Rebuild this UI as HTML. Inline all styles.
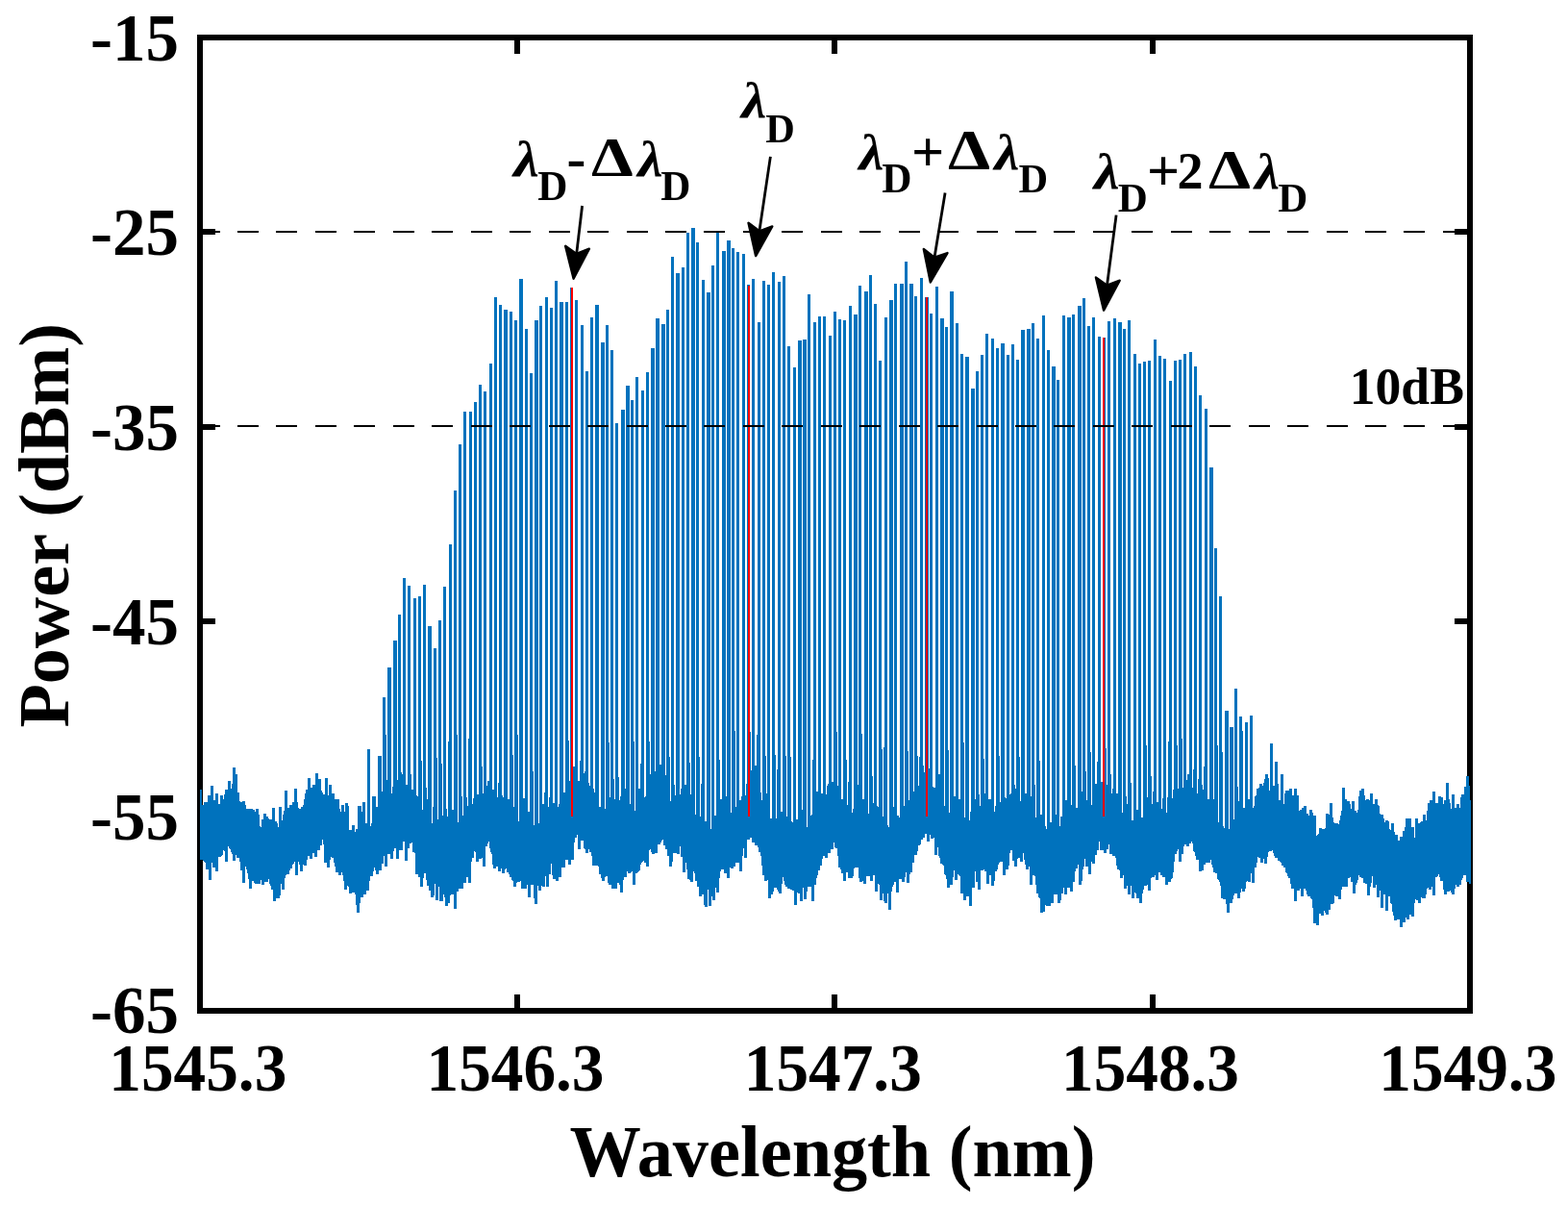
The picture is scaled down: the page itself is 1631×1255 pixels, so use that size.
<!DOCTYPE html>
<html><head><meta charset="utf-8"><title>Spectrum</title>
<style>html,body{margin:0;padding:0;background:#fff;overflow:hidden}svg{display:block}</style>
</head><body>
<svg width="1631" height="1255" viewBox="0 0 1631 1255">
<rect width="1631" height="1255" fill="#fff"/>
<path d="M205 36h1327v6h-1327zM205 1048h1327v6h-1327zM205 36h6v1018h-6zM1526 36h6v1018h-6zM211 238h13v6h-13zM1513 238h13v6h-13zM211 441h13v6h-13zM1513 441h13v6h-13zM211 643h13v6h-13zM1513 643h13v6h-13zM211 846h13v6h-13zM1513 846h13v6h-13zM535 1034h6v14h-6zM535 42h6v14h-6zM865 1034h6v14h-6zM865 42h6v14h-6zM1196 1034h6v14h-6zM1196 42h6v14h-6z" fill="#000" shape-rendering="crispEdges"/>
<polygon points="208,821 209,821 209,821 210,821 210,837 211,837 211,837 212,837 212,834 213,834 213,834 214,834 214,834 215,834 215,834 216,834 216,827 217,827 217,827 218,827 218,827 219,827 219,817 220,817 220,817 221,817 221,817 222,817 222,832 223,832 223,832 224,832 224,825 225,825 225,825 226,825 226,825 227,825 227,836 228,836 228,836 229,836 229,827 230,827 230,827 231,827 231,827 232,827 232,831 233,831 233,826 234,826 234,821 235,821 235,821 236,821 236,821 237,821 237,812 238,812 238,812 239,812 239,812 240,812 240,820 241,820 241,815 242,815 242,798 243,798 243,798 244,798 244,798 245,798 245,805 246,805 246,805 247,805 247,824 248,824 248,824 249,824 249,833 250,833 250,834 251,834 251,834 252,834 252,833 253,833 253,833 254,833 254,833 255,833 255,837 256,837 256,841 257,841 257,841 258,841 258,841 259,841 259,841 260,841 260,841 261,841 261,841 262,841 262,841 263,841 263,842 264,842 264,842 265,842 265,844 266,844 266,841 267,841 267,841 268,841 268,841 269,841 269,847 270,847 270,859 271,859 271,860 272,860 272,852 273,852 273,852 274,852 274,846 275,846 275,846 276,846 276,846 277,846 277,849 278,849 278,849 279,849 279,851 280,851 280,852 281,852 281,852 282,852 282,852 283,852 283,840 284,840 284,840 285,840 285,840 286,840 286,854 287,854 287,854 288,854 288,856 289,856 289,860 290,860 290,839 291,839 291,839 292,839 292,839 293,839 293,853 294,853 294,847 295,847 295,843 296,843 296,822 297,822 297,822 298,822 298,822 299,822 299,840 300,840 300,840 301,840 301,837 302,837 302,837 303,837 303,837 304,837 304,834 305,834 305,834 306,834 306,820 307,820 307,820 308,820 308,820 309,820 309,834 310,834 310,840 311,840 311,841 312,841 312,841 313,841 313,839 314,839 314,839 315,839 315,837 316,837 316,831 317,831 317,825 318,825 318,821 319,821 319,821 320,821 320,809 321,809 321,809 322,809 322,809 323,809 323,819 324,819 324,819 325,819 325,816 326,816 326,816 327,816 327,816 328,816 328,804 329,804 329,804 330,804 330,804 331,804 331,810 332,810 332,810 333,810 333,810 334,810 334,822 335,822 335,824 336,824 336,826 337,826 337,826 338,826 338,809 339,809 339,809 340,809 340,809 341,809 341,827 342,827 342,816 343,816 343,816 344,816 344,816 345,816 345,825 346,825 346,825 347,825 347,825 348,825 348,831 349,831 349,831 350,831 350,831 351,831 351,831 352,831 352,831 353,831 353,841 354,841 354,844 355,844 355,837 356,837 356,837 357,837 357,837 358,837 358,844 359,844 359,835 360,835 360,835 361,835 361,835 362,835 362,838 363,838 363,863 364,863 364,863 365,863 365,863 366,863 366,858 367,858 367,858 368,858 368,858 369,858 369,865 370,865 370,862 371,862 371,862 372,862 372,862 373,862 373,865 374,865 374,865 375,865 375,844 376,844 376,844 377,844 377,844 378,844 378,857 379,857 379,857 380,857 380,856 381,856 381,856 382,856 382,856 383,856 383,859 384,859 384,863 385,863 385,859 386,859 386,856 387,856 387,846 388,846 388,832 389,832 389,832 390,832 390,832 391,832 391,839 392,839 392,839 393,839 393,836 394,836 394,831 395,831 395,828 396,828 396,823 397,823 397,823 398,823 398,823 399,823 399,802 400,802 400,802 401,802 401,802 402,802 402,811 403,811 403,811 404,811 404,811 405,811 405,822 406,822 406,822 407,822 407,825 408,825 408,818 409,818 409,818 410,818 410,818 411,818 411,811 412,811 412,811 413,811 413,811 414,811 414,809 415,809 415,803 416,803 416,803 417,803 417,803 418,803 418,805 419,805 419,809 420,809 420,809 421,809 421,809 422,809 422,816 423,816 423,816 424,816 424,815 425,815 425,805 426,805 426,805 427,805 427,805 428,805 428,821 429,821 429,821 430,821 430,821 431,821 431,822 432,822 432,824 433,824 433,827 434,827 434,828 435,828 435,821 436,821 436,821 437,821 437,821 438,821 438,842 439,842 439,842 440,842 440,846 441,846 441,848 442,848 442,844 443,844 443,844 444,844 444,831 445,831 445,831 446,831 446,831 447,831 447,848 448,848 448,853 449,853 449,856 450,856 450,839 451,839 451,839 452,839 452,839 453,839 453,848 454,848 454,852 455,852 455,852 456,852 456,841 457,841 457,841 458,841 458,841 459,841 459,848 460,848 460,848 461,848 461,848 462,848 462,841 463,841 463,841 464,841 464,841 465,841 465,849 466,849 466,859 467,859 467,859 468,859 468,859 469,859 469,842 470,842 470,842 471,842 471,842 472,842 472,859 473,859 473,864 474,864 474,864 475,864 475,855 476,855 476,855 477,855 477,855 478,855 478,857 479,857 479,848 480,848 480,848 481,848 481,848 482,848 482,848 483,848 483,836 484,836 484,836 485,836 485,836 486,836 486,838 487,838 487,840 488,840 488,840 489,840 489,841 490,841 490,837 491,837 491,836 492,836 492,830 493,830 493,829 494,829 494,829 495,829 495,829 496,829 496,826 497,826 497,826 498,826 498,826 499,826 499,828 500,828 500,825 501,825 501,825 502,825 502,825 503,825 503,808 504,808 504,808 505,808 505,808 506,808 506,817 507,817 507,812 508,812 508,812 509,812 509,812 510,812 510,823 511,823 511,822 512,822 512,821 513,821 513,821 514,821 514,821 515,821 515,822 516,822 516,827 517,827 517,829 518,829 518,814 519,814 519,814 520,814 520,814 521,814 521,835 522,835 522,836 523,836 523,829 524,829 524,829 525,829 525,829 526,829 526,840 527,840 527,831 528,831 528,831 529,831 529,831 530,831 530,843 531,843 531,843 532,843 532,842 533,842 533,842 534,842 534,839 535,839 535,839 536,839 536,839 537,839 537,847 538,847 538,850 539,850 539,854 540,854 540,854 541,854 541,838 542,838 542,838 543,838 543,838 544,838 544,830 545,830 545,830 546,830 546,830 547,830 547,845 548,845 548,844 549,844 549,844 550,844 550,844 551,844 551,853 552,853 552,842 553,842 553,842 554,842 554,842 555,842 555,858 556,858 556,858 557,858 557,864 558,864 558,862 559,862 559,856 560,856 560,856 561,856 561,856 562,856 562,856 563,856 563,836 564,836 564,836 565,836 565,836 566,836 566,849 567,849 567,832 568,832 568,832 569,832 569,832 570,832 570,839 571,839 571,829 572,829 572,829 573,829 573,829 574,829 574,835 575,835 575,835 576,835 576,835 577,835 577,846 578,846 578,841 579,841 579,839 580,839 580,839 581,839 581,836 582,836 582,832 583,832 583,823 584,823 584,823 585,823 585,823 586,823 586,824 587,824 587,824 588,824 588,831 589,831 589,834 590,834 590,834 591,834 591,812 592,812 592,812 593,812 593,812 594,812 594,806 595,806 595,797 596,797 596,797 597,797 597,797 598,797 598,809 599,809 599,809 600,809 600,809 601,809 601,812 602,812 602,812 603,812 603,812 604,812 604,820 605,820 605,810 606,810 606,810 607,810 607,804 608,804 608,802 609,802 609,802 610,802 610,802 611,802 611,814 612,814 612,814 613,814 613,817 614,817 614,817 615,817 615,817 616,817 616,820 617,820 617,820 618,820 618,824 619,824 619,818 620,818 620,818 621,818 621,818 622,818 622,839 623,839 623,839 624,839 624,839 625,839 625,844 626,844 626,836 627,836 627,836 628,836 628,836 629,836 629,841 630,841 630,843 631,843 631,845 632,845 632,847 633,847 633,840 634,840 634,829 635,829 635,829 636,829 636,829 637,829 637,831 638,831 638,831 639,831 639,831 640,831 640,845 641,845 641,847 642,847 642,848 643,848 643,832 644,832 644,832 645,832 645,828 646,828 646,828 647,828 647,828 648,828 648,820 649,820 649,820 650,820 650,820 651,820 651,840 652,840 652,845 653,845 653,836 654,836 654,836 655,836 655,836 656,836 656,843 657,843 657,839 658,839 658,839 659,839 659,839 660,839 660,843 661,843 661,843 662,843 662,842 663,842 663,842 664,842 664,820 665,820 665,820 666,820 666,820 667,820 667,829 668,829 668,829 669,829 669,829 670,829 670,829 671,829 671,828 672,828 672,815 673,815 673,815 674,815 674,805 675,805 675,805 676,805 676,805 677,805 677,820 678,820 678,816 679,816 679,802 680,802 680,802 681,802 681,802 682,802 682,819 683,819 683,818 684,818 684,804 685,804 685,795 686,795 686,795 687,795 687,795 688,795 688,808 689,808 689,801 690,801 690,801 691,801 691,801 692,801 692,806 693,806 693,813 694,813 694,813 695,813 695,824 696,824 696,824 697,824 697,833 698,833 698,829 699,829 699,816 700,816 700,816 701,816 701,816 702,816 702,827 703,827 703,816 704,816 704,816 705,816 705,816 706,816 706,825 707,825 707,826 708,826 708,820 709,820 709,820 710,820 710,820 711,820 711,816 712,816 712,816 713,816 713,816 714,816 714,821 715,821 715,823 716,823 716,832 717,832 717,826 718,826 718,826 719,826 719,826 720,826 720,836 721,836 721,837 722,837 722,841 723,841 723,847 724,847 724,847 725,847 725,847 726,847 726,847 727,847 727,850 728,850 728,849 729,849 729,843 730,843 730,843 731,843 731,843 732,843 732,850 733,850 733,854 734,854 734,854 735,854 735,855 736,855 736,853 737,853 737,853 738,853 738,853 739,853 739,862 740,862 740,862 741,862 741,859 742,859 742,854 743,854 743,848 744,848 744,848 745,848 745,848 746,848 746,851 747,851 747,844 748,844 748,844 749,844 749,831 750,831 750,831 751,831 751,831 752,831 752,822 753,822 753,822 754,822 754,822 755,822 755,828 756,828 756,828 757,828 757,828 758,828 758,831 759,831 759,831 760,831 760,845 761,845 761,844 762,844 762,826 763,826 763,826 764,826 764,826 765,826 765,839 766,839 766,840 767,840 767,832 768,832 768,832 769,832 769,832 770,832 770,832 771,832 771,828 772,828 772,821 773,821 773,821 774,821 774,821 775,821 775,827 776,827 776,815 777,815 777,815 778,815 778,811 779,811 779,804 780,804 780,801 781,801 781,801 782,801 782,801 783,801 783,805 784,805 784,796 785,796 785,796 786,796 786,796 787,796 787,797 788,797 788,797 789,797 789,814 790,814 790,817 791,817 791,824 792,824 792,832 793,832 793,825 794,825 794,825 795,825 795,825 796,825 796,825 797,825 797,825 798,825 798,825 799,825 799,848 800,848 800,851 801,851 801,851 802,851 802,851 803,851 803,862 804,862 804,862 805,862 805,860 806,860 806,858 807,858 807,851 808,851 808,847 809,847 809,847 810,847 810,847 811,847 811,844 812,844 812,844 813,844 813,844 814,844 814,852 815,852 815,851 816,851 816,849 817,849 817,849 818,849 818,849 819,849 819,849 820,849 820,849 821,849 821,849 822,849 822,854 823,854 823,854 824,854 824,855 825,855 825,858 826,858 826,861 827,861 827,852 828,852 828,852 829,852 829,852 830,852 830,860 831,860 831,860 832,860 832,853 833,853 833,842 834,842 834,842 835,842 835,842 836,842 836,841 837,841 837,841 838,841 838,841 839,841 839,860 840,860 840,847 841,847 841,847 842,847 842,847 843,847 843,848 844,848 844,847 845,847 845,841 846,841 846,841 847,841 847,826 848,826 848,826 849,826 849,823 850,823 850,823 851,823 851,823 852,823 852,828 853,828 853,826 854,826 854,825 855,825 855,825 856,825 856,825 857,825 857,827 858,827 858,826 859,826 859,826 860,826 860,817 861,817 861,815 862,815 862,815 863,815 863,815 864,815 864,814 865,814 865,813 866,813 866,813 867,813 867,813 868,813 868,813 869,813 869,815 870,815 870,817 871,817 871,817 872,817 872,821 873,821 873,821 874,821 874,828 875,828 875,831 876,831 876,831 877,831 877,832 878,832 878,836 879,836 879,838 880,838 880,838 881,838 881,837 882,837 882,837 883,837 883,837 884,837 884,844 885,844 885,845 886,845 886,845 887,845 887,841 888,841 888,838 889,838 889,829 890,829 890,816 891,816 891,816 892,816 892,816 893,816 893,817 894,817 894,832 895,832 895,833 896,833 896,831 897,831 897,831 898,831 898,831 899,831 899,832 900,832 900,832 901,832 901,838 902,838 902,838 903,838 903,846 904,846 904,841 905,841 905,841 906,841 906,841 907,841 907,841 908,841 908,835 909,835 909,835 910,835 910,835 911,835 911,838 912,838 912,838 913,838 913,839 914,839 914,844 915,844 915,854 916,854 916,854 917,854 917,854 918,854 918,849 919,849 919,849 920,849 920,849 921,849 921,849 922,849 922,849 923,849 923,858 924,858 924,860 925,860 925,860 926,860 926,860 927,860 927,839 928,839 928,839 929,839 929,839 930,839 930,845 931,845 931,845 932,845 932,848 933,848 933,848 934,848 934,848 935,848 935,850 936,850 936,848 937,848 937,848 938,848 938,848 939,848 939,838 940,838 940,838 941,838 941,838 942,838 942,825 943,825 943,825 944,825 944,825 945,825 945,832 946,832 946,834 947,834 947,835 948,835 948,828 949,828 949,823 950,823 950,823 951,823 951,823 952,823 952,824 953,824 953,817 954,817 954,817 955,817 955,817 956,817 956,813 957,813 957,813 958,813 958,796 959,796 959,796 960,796 960,796 961,796 961,803 962,803 962,803 963,803 963,807 964,807 964,799 965,799 965,799 966,799 966,799 967,799 967,811 968,811 968,811 969,811 969,811 970,811 970,818 971,818 971,819 972,819 972,819 973,819 973,819 974,819 974,819 975,819 975,821 976,821 976,805 977,805 977,805 978,805 978,805 979,805 979,826 980,826 980,826 981,826 981,835 982,835 982,838 983,838 983,839 984,839 984,841 985,841 985,841 986,841 986,841 987,841 987,845 988,845 988,845 989,845 989,823 990,823 990,823 991,823 991,823 992,823 992,828 993,828 993,828 994,828 994,828 995,828 995,828 996,828 996,831 997,831 997,831 998,831 998,831 999,831 999,847 1000,847 1000,851 1001,851 1001,851 1002,851 1002,850 1003,850 1003,850 1004,850 1004,850 1005,850 1005,860 1006,860 1006,856 1007,856 1007,856 1008,856 1008,853 1009,853 1009,844 1010,844 1010,841 1011,841 1011,830 1012,830 1012,830 1013,830 1013,830 1014,830 1014,831 1015,831 1015,818 1016,818 1016,818 1017,818 1017,818 1018,818 1018,826 1019,826 1019,838 1020,838 1020,824 1021,824 1021,824 1022,824 1022,824 1023,824 1023,829 1024,829 1024,825 1025,825 1025,825 1026,825 1026,825 1027,825 1027,835 1028,835 1028,831 1029,831 1029,831 1030,831 1030,831 1031,831 1031,839 1032,839 1032,839 1033,839 1033,839 1034,839 1034,844 1035,844 1035,838 1036,838 1036,826 1037,826 1037,826 1038,826 1038,826 1039,826 1039,835 1040,835 1040,834 1041,834 1041,813 1042,813 1042,813 1043,813 1043,813 1044,813 1044,829 1045,829 1045,829 1046,829 1046,830 1047,830 1047,827 1048,827 1048,826 1049,826 1049,826 1050,826 1050,826 1051,826 1051,825 1052,825 1052,822 1053,822 1053,816 1054,816 1054,816 1055,816 1055,816 1056,816 1056,820 1057,820 1057,820 1058,820 1058,820 1059,820 1059,827 1060,827 1060,833 1061,833 1061,833 1062,833 1062,831 1063,831 1063,830 1064,830 1064,830 1065,830 1065,825 1066,825 1066,825 1067,825 1067,825 1068,825 1068,831 1069,831 1069,828 1070,828 1070,828 1071,828 1071,828 1072,828 1072,828 1073,828 1073,837 1074,837 1074,837 1075,837 1075,841 1076,841 1076,847 1077,847 1077,850 1078,850 1078,850 1079,850 1079,850 1080,850 1080,850 1081,850 1081,854 1082,854 1082,847 1083,847 1083,847 1084,847 1084,847 1085,847 1085,858 1086,858 1086,858 1087,858 1087,859 1088,859 1088,862 1089,862 1089,862 1090,862 1090,864 1091,864 1091,855 1092,855 1092,855 1093,855 1093,855 1094,855 1094,855 1095,855 1095,851 1096,851 1096,847 1097,847 1097,847 1098,847 1098,847 1099,847 1099,854 1100,854 1100,859 1101,859 1101,859 1102,859 1102,859 1103,859 1103,849 1104,849 1104,849 1105,849 1105,849 1106,849 1106,850 1107,850 1107,853 1108,853 1108,832 1109,832 1109,832 1110,832 1110,832 1111,832 1111,822 1112,822 1112,822 1113,822 1113,822 1114,822 1114,837 1115,837 1115,837 1116,837 1116,852 1117,852 1117,846 1118,846 1118,840 1119,840 1119,840 1120,840 1120,840 1121,840 1121,840 1122,840 1122,840 1123,840 1123,840 1124,840 1124,823 1125,823 1125,823 1126,823 1126,823 1127,823 1127,825 1128,825 1128,826 1129,826 1129,826 1130,826 1130,832 1131,832 1131,832 1132,832 1132,839 1133,839 1133,841 1134,841 1134,837 1135,837 1135,837 1136,837 1136,833 1137,833 1137,821 1138,821 1138,821 1139,821 1139,815 1140,815 1140,815 1141,815 1141,815 1142,815 1142,820 1143,820 1143,819 1144,819 1144,813 1145,813 1145,813 1146,813 1146,813 1147,813 1147,800 1148,800 1148,800 1149,800 1149,800 1150,800 1150,814 1151,814 1151,816 1152,816 1152,814 1153,814 1153,805 1154,805 1154,805 1155,805 1155,805 1156,805 1156,825 1157,825 1157,825 1158,825 1158,828 1159,828 1159,829 1160,829 1160,829 1161,829 1161,825 1162,825 1162,825 1163,825 1163,825 1164,825 1164,835 1165,835 1165,846 1166,846 1166,846 1167,846 1167,845 1168,845 1168,841 1169,841 1169,828 1170,828 1170,828 1171,828 1171,828 1172,828 1172,836 1173,836 1173,836 1174,836 1174,836 1175,836 1175,850 1176,850 1176,853 1177,853 1177,853 1178,853 1178,853 1179,853 1179,853 1180,853 1180,861 1181,861 1181,842 1182,842 1182,842 1183,842 1183,842 1184,842 1184,858 1185,858 1185,852 1186,852 1186,852 1187,852 1187,850 1188,850 1188,850 1189,850 1189,843 1190,843 1190,843 1191,843 1191,842 1192,842 1192,834 1193,834 1193,829 1194,829 1194,829 1195,829 1195,829 1196,829 1196,834 1197,834 1197,837 1198,837 1198,836 1199,836 1199,835 1200,835 1200,833 1201,833 1201,833 1202,833 1202,833 1203,833 1203,834 1204,834 1204,834 1205,834 1205,834 1206,834 1206,840 1207,840 1207,842 1208,842 1208,841 1209,841 1209,830 1210,830 1210,830 1211,830 1211,830 1212,830 1212,843 1213,843 1213,845 1214,845 1214,829 1215,829 1215,829 1216,829 1216,829 1217,829 1217,836 1218,836 1218,830 1219,830 1219,830 1220,830 1220,821 1221,821 1221,819 1222,819 1222,805 1223,805 1223,805 1224,805 1224,805 1225,805 1225,820 1226,820 1226,820 1227,820 1227,820 1228,820 1228,826 1229,826 1229,819 1230,819 1230,819 1231,819 1231,815 1232,815 1232,815 1233,815 1233,815 1234,815 1234,811 1235,811 1235,805 1236,805 1236,805 1237,805 1237,805 1238,805 1238,821 1239,821 1239,819 1240,819 1240,819 1241,819 1241,800 1242,800 1242,800 1243,800 1243,800 1244,800 1244,826 1245,826 1245,825 1246,825 1246,810 1247,810 1247,810 1248,810 1248,810 1249,810 1249,821 1250,821 1250,821 1251,821 1251,821 1252,821 1252,826 1253,826 1253,828 1254,828 1254,828 1255,828 1255,829 1256,829 1256,831 1257,831 1257,831 1258,831 1258,836 1259,836 1259,822 1260,822 1260,822 1261,822 1261,822 1262,822 1262,831 1263,831 1263,831 1264,831 1264,832 1265,832 1265,834 1266,834 1266,847 1267,847 1267,855 1268,855 1268,858 1269,858 1269,858 1270,858 1270,859 1271,859 1271,859 1272,859 1272,859 1273,859 1273,861 1274,861 1274,848 1275,848 1275,848 1276,848 1276,848 1277,848 1277,862 1278,862 1278,862 1279,862 1279,862 1280,862 1280,857 1281,857 1281,857 1282,857 1282,857 1283,857 1283,852 1284,852 1284,842 1285,842 1285,842 1286,842 1286,833 1287,833 1287,833 1288,833 1288,833 1289,833 1289,843 1290,843 1290,843 1291,843 1291,855 1292,855 1292,846 1293,846 1293,840 1294,840 1294,840 1295,840 1295,829 1296,829 1296,829 1297,829 1297,829 1298,829 1298,831 1299,831 1299,831 1300,831 1300,843 1301,843 1301,843 1302,843 1302,843 1303,843 1303,840 1304,840 1304,838 1305,838 1305,828 1306,828 1306,827 1307,827 1307,820 1308,820 1308,820 1309,820 1309,819 1310,819 1310,815 1311,815 1311,815 1312,815 1312,815 1313,815 1313,817 1314,817 1314,814 1315,814 1315,810 1316,810 1316,810 1317,810 1317,809 1318,809 1318,809 1319,809 1319,809 1320,809 1320,822 1321,822 1321,807 1322,807 1322,807 1323,807 1323,807 1324,807 1324,817 1325,817 1325,817 1326,817 1326,817 1327,817 1327,817 1328,817 1328,826 1329,826 1329,826 1330,826 1330,832 1331,832 1331,832 1332,832 1332,829 1333,829 1333,829 1334,829 1334,829 1335,829 1335,836 1336,836 1336,825 1337,825 1337,825 1338,825 1338,825 1339,825 1339,832 1340,832 1340,832 1341,832 1341,820 1342,820 1342,820 1343,820 1343,820 1344,820 1344,827 1345,827 1345,827 1346,827 1346,820 1347,820 1347,820 1348,820 1348,820 1349,820 1349,827 1350,827 1350,827 1351,827 1351,843 1352,843 1352,842 1353,842 1353,842 1354,842 1354,840 1355,840 1355,840 1356,840 1356,838 1357,838 1357,838 1358,838 1358,838 1359,838 1359,846 1360,846 1360,846 1361,846 1361,848 1362,848 1362,842 1363,842 1363,842 1364,842 1364,842 1365,842 1365,845 1366,845 1366,848 1367,848 1367,848 1368,848 1368,848 1369,848 1369,869 1370,869 1370,868 1371,868 1371,867 1372,867 1372,861 1373,861 1373,861 1374,861 1374,861 1375,861 1375,862 1376,862 1376,862 1377,862 1377,862 1378,862 1378,861 1379,861 1379,846 1380,846 1380,846 1381,846 1381,846 1382,846 1382,847 1383,847 1383,835 1384,835 1384,835 1385,835 1385,835 1386,835 1386,850 1387,850 1387,855 1388,855 1388,856 1389,856 1389,856 1390,856 1390,856 1391,856 1391,856 1392,856 1392,857 1393,857 1393,853 1394,853 1394,848 1395,848 1395,843 1396,843 1396,819 1397,819 1397,819 1398,819 1398,819 1399,819 1399,831 1400,831 1400,831 1401,831 1401,833 1402,833 1402,833 1403,833 1403,833 1404,833 1404,836 1405,836 1405,841 1406,841 1406,833 1407,833 1407,833 1408,833 1408,833 1409,833 1409,843 1410,843 1410,843 1411,843 1411,845 1412,845 1412,842 1413,842 1413,828 1414,828 1414,822 1415,822 1415,822 1416,822 1416,820 1417,820 1417,820 1418,820 1418,820 1419,820 1419,827 1420,827 1420,832 1421,832 1421,831 1422,831 1422,831 1423,831 1423,831 1424,831 1424,832 1425,832 1425,825 1426,825 1426,825 1427,825 1427,825 1428,825 1428,836 1429,836 1429,836 1430,836 1430,831 1431,831 1431,831 1432,831 1432,831 1433,831 1433,837 1434,837 1434,838 1435,838 1435,846 1436,846 1436,847 1437,847 1437,847 1438,847 1438,847 1439,847 1439,851 1440,851 1440,855 1441,855 1441,853 1442,853 1442,853 1443,853 1443,853 1444,853 1444,854 1445,854 1445,862 1446,862 1446,863 1447,863 1447,856 1448,856 1448,856 1449,856 1449,856 1450,856 1450,865 1451,865 1451,868 1452,868 1452,868 1453,868 1453,868 1454,868 1454,874 1455,874 1455,874 1456,874 1456,870 1457,870 1457,870 1458,870 1458,870 1459,870 1459,864 1460,864 1460,864 1461,864 1461,860 1462,860 1462,851 1463,851 1463,851 1464,851 1464,851 1465,851 1465,851 1466,851 1466,851 1467,851 1467,851 1468,851 1468,860 1469,860 1469,860 1470,860 1470,860 1471,860 1471,871 1472,871 1472,851 1473,851 1473,851 1474,851 1474,851 1475,851 1475,856 1476,856 1476,856 1477,856 1477,855 1478,855 1478,854 1479,854 1479,854 1480,854 1480,847 1481,847 1481,847 1482,847 1482,847 1483,847 1483,853 1484,853 1484,843 1485,843 1485,835 1486,835 1486,835 1487,835 1487,832 1488,832 1488,832 1489,832 1489,832 1490,832 1490,823 1491,823 1491,823 1492,823 1492,823 1493,823 1493,835 1494,835 1494,835 1495,835 1495,835 1496,835 1496,828 1497,828 1497,828 1498,828 1498,828 1499,828 1499,829 1500,829 1500,829 1501,829 1501,836 1502,836 1502,832 1503,832 1503,832 1504,832 1504,814 1505,814 1505,814 1506,814 1506,814 1507,814 1507,831 1508,831 1508,835 1509,835 1509,841 1510,841 1510,826 1511,826 1511,826 1512,826 1512,826 1513,826 1513,840 1514,840 1514,840 1515,840 1515,836 1516,836 1516,836 1517,836 1517,836 1518,836 1518,840 1519,840 1519,829 1520,829 1520,826 1521,826 1521,826 1522,826 1522,826 1523,826 1523,818 1524,818 1524,818 1525,818 1525,807 1526,807 1526,807 1527,807 1527,807 1528,807 1528,817 1529,817 1529,832 1530,832 1530,919 1529,919 1529,919 1528,919 1528,917 1527,917 1527,917 1526,917 1526,917 1525,917 1525,910 1524,910 1524,910 1523,910 1523,910 1522,910 1522,913 1521,913 1521,915 1520,915 1520,920 1519,920 1519,920 1518,920 1518,922 1517,922 1517,922 1516,922 1516,922 1515,922 1515,920 1514,920 1514,924 1513,924 1513,930 1512,930 1512,930 1511,930 1511,930 1510,930 1510,928 1509,928 1509,926 1508,926 1508,927 1507,927 1507,927 1506,927 1506,927 1505,927 1505,930 1504,930 1504,930 1503,930 1503,930 1502,930 1502,925 1501,925 1501,916 1500,916 1500,916 1499,916 1499,916 1498,916 1498,912 1497,912 1497,909 1496,909 1496,911 1495,911 1495,912 1494,912 1494,912 1493,912 1493,931 1492,931 1492,931 1491,931 1491,931 1490,931 1490,922 1489,922 1489,925 1488,925 1488,925 1487,925 1487,925 1486,925 1486,923 1485,923 1485,924 1484,924 1484,930 1483,930 1483,934 1482,934 1482,934 1481,934 1481,934 1480,934 1480,934 1479,934 1479,933 1478,933 1478,939 1477,939 1477,939 1476,939 1476,939 1475,939 1475,936 1474,936 1474,936 1473,936 1473,935 1472,935 1472,939 1471,939 1471,953 1470,953 1470,953 1469,953 1469,953 1468,953 1468,951 1467,951 1467,951 1466,951 1466,956 1465,956 1465,956 1464,956 1464,956 1463,956 1463,954 1462,954 1462,959 1461,959 1461,959 1460,959 1460,959 1459,959 1459,964 1458,964 1458,964 1457,964 1457,964 1456,964 1456,956 1455,956 1455,956 1454,956 1454,956 1453,956 1453,957 1452,957 1452,957 1451,957 1451,957 1450,957 1450,952 1449,952 1449,948 1448,948 1448,940 1447,940 1447,939 1446,939 1446,932 1445,932 1445,932 1444,932 1444,947 1443,947 1443,947 1442,947 1442,947 1441,947 1441,930 1440,930 1440,930 1439,930 1439,944 1438,944 1438,944 1437,944 1437,944 1436,944 1436,926 1435,926 1435,933 1434,933 1434,933 1433,933 1433,933 1432,933 1432,920 1431,920 1431,923 1430,923 1430,923 1429,923 1429,923 1428,923 1428,911 1427,911 1427,918 1426,918 1426,922 1425,922 1425,931 1424,931 1424,931 1423,931 1423,931 1422,931 1422,919 1421,919 1421,919 1420,919 1420,918 1419,918 1419,918 1418,918 1418,913 1417,913 1417,913 1416,913 1416,912 1415,912 1415,912 1414,912 1414,910 1413,910 1413,915 1412,915 1412,918 1411,918 1411,920 1410,920 1410,929 1409,929 1409,929 1408,929 1408,929 1407,929 1407,917 1406,917 1406,917 1405,917 1405,912 1404,912 1404,913 1403,913 1403,913 1402,913 1402,922 1401,922 1401,922 1400,922 1400,922 1399,922 1399,922 1398,922 1398,922 1397,922 1397,922 1396,922 1396,925 1395,925 1395,935 1394,935 1394,935 1393,935 1393,935 1392,935 1392,932 1391,932 1391,932 1390,932 1390,932 1389,932 1389,931 1388,931 1388,939 1387,939 1387,940 1386,940 1386,940 1385,940 1385,940 1384,940 1384,946 1383,946 1383,946 1382,946 1382,951 1381,951 1381,951 1380,951 1380,951 1379,951 1379,949 1378,949 1378,947 1377,947 1377,952 1376,952 1376,952 1375,952 1375,952 1374,952 1374,950 1373,950 1373,950 1372,950 1372,962 1371,962 1371,962 1370,962 1370,962 1369,962 1369,960 1368,960 1368,960 1367,960 1367,960 1366,960 1366,944 1365,944 1365,935 1364,935 1364,934 1363,934 1363,932 1362,932 1362,932 1361,932 1361,932 1360,932 1360,930 1359,930 1359,926 1358,926 1358,924 1357,924 1357,924 1356,924 1356,932 1355,932 1355,932 1354,932 1354,932 1353,932 1353,924 1352,924 1352,926 1351,926 1351,926 1350,926 1350,926 1349,926 1349,937 1348,937 1348,937 1347,937 1347,937 1346,937 1346,924 1345,924 1345,924 1344,924 1344,924 1343,924 1343,919 1342,919 1342,913 1341,913 1341,913 1340,913 1340,911 1339,911 1339,908 1338,908 1338,907 1337,907 1337,902 1336,902 1336,902 1335,902 1335,900 1334,900 1334,900 1333,900 1333,897 1332,897 1332,896 1331,896 1331,895 1330,895 1330,895 1329,895 1329,892 1328,892 1328,892 1327,892 1327,892 1326,892 1326,890 1325,890 1325,887 1324,887 1324,884 1323,884 1323,885 1322,885 1322,885 1321,885 1321,885 1320,885 1320,886 1319,886 1319,891 1318,891 1318,898 1317,898 1317,898 1316,898 1316,898 1315,898 1315,893 1314,893 1314,897 1313,897 1313,897 1312,897 1312,897 1311,897 1311,892 1310,892 1310,892 1309,892 1309,891 1308,891 1308,897 1307,897 1307,902 1306,902 1306,902 1305,902 1305,918 1304,918 1304,918 1303,918 1303,918 1302,918 1302,908 1301,908 1301,917 1300,917 1300,917 1299,917 1299,917 1298,917 1298,916 1297,916 1297,917 1296,917 1296,924 1295,924 1295,927 1294,927 1294,927 1293,927 1293,927 1292,927 1292,924 1291,924 1291,928 1290,928 1290,934 1289,934 1289,934 1288,934 1288,934 1287,934 1287,929 1286,929 1286,929 1285,929 1285,929 1284,929 1284,931 1283,931 1283,935 1282,935 1282,939 1281,939 1281,939 1280,939 1280,939 1279,939 1279,949 1278,949 1278,949 1277,949 1277,949 1276,949 1276,940 1275,940 1275,935 1274,935 1274,935 1273,935 1273,935 1272,935 1272,934 1271,934 1271,934 1270,934 1270,921 1269,921 1269,917 1268,917 1268,915 1267,915 1267,914 1266,914 1266,908 1265,908 1265,908 1264,908 1264,907 1263,907 1263,907 1262,907 1262,902 1261,902 1261,899 1260,899 1260,894 1259,894 1259,897 1258,897 1258,897 1257,897 1257,897 1256,897 1256,897 1255,897 1255,897 1254,897 1254,899 1253,899 1253,899 1252,899 1252,905 1251,905 1251,905 1250,905 1250,906 1249,906 1249,906 1248,906 1248,906 1247,906 1247,894 1246,894 1246,894 1245,894 1245,894 1244,894 1244,890 1243,890 1243,886 1242,886 1242,885 1241,885 1241,877 1240,877 1240,875 1239,875 1239,877 1238,877 1238,877 1237,877 1237,880 1236,880 1236,880 1235,880 1235,880 1234,880 1234,878 1233,878 1233,878 1232,878 1232,880 1231,880 1231,888 1230,888 1230,888 1229,888 1229,896 1228,896 1228,896 1227,896 1227,896 1226,896 1226,883 1225,883 1225,885 1224,885 1224,888 1223,888 1223,888 1222,888 1222,896 1221,896 1221,907 1220,907 1220,913 1219,913 1219,914 1218,914 1218,917 1217,917 1217,917 1216,917 1216,917 1215,917 1215,920 1214,920 1214,920 1213,920 1213,920 1212,920 1212,912 1211,912 1211,912 1210,912 1210,912 1209,912 1209,910 1208,910 1208,910 1207,910 1207,907 1206,907 1206,907 1205,907 1205,915 1204,915 1204,915 1203,915 1203,915 1202,915 1202,910 1201,910 1201,912 1200,912 1200,912 1199,912 1199,912 1198,912 1198,913 1197,913 1197,926 1196,926 1196,926 1195,926 1195,926 1194,926 1194,920 1193,920 1193,921 1192,921 1192,921 1191,921 1191,921 1190,921 1190,925 1189,925 1189,929 1188,929 1188,939 1187,939 1187,939 1186,939 1186,939 1185,939 1185,934 1184,934 1184,934 1183,934 1183,934 1182,934 1182,929 1181,929 1181,928 1180,928 1180,934 1179,934 1179,934 1178,934 1178,934 1177,934 1177,921 1176,921 1176,930 1175,930 1175,930 1174,930 1174,930 1173,930 1173,921 1172,921 1172,924 1171,924 1171,924 1170,924 1170,924 1169,924 1169,910 1168,910 1168,913 1167,913 1167,913 1166,913 1166,913 1165,913 1165,905 1164,905 1164,904 1163,904 1163,904 1162,904 1162,900 1161,900 1161,892 1160,892 1160,890 1159,890 1159,890 1158,890 1158,890 1157,890 1157,888 1156,888 1156,888 1155,888 1155,888 1154,888 1154,878 1153,878 1153,883 1152,883 1152,883 1151,883 1151,887 1150,887 1150,887 1149,887 1149,887 1148,887 1148,884 1147,884 1147,884 1146,884 1146,884 1145,884 1145,884 1144,884 1144,875 1143,875 1143,884 1142,884 1142,884 1141,884 1141,889 1140,889 1140,889 1139,889 1139,898 1138,898 1138,898 1137,898 1137,898 1136,898 1136,896 1135,896 1135,909 1134,909 1134,909 1133,909 1133,909 1132,909 1132,901 1131,901 1131,901 1130,901 1130,901 1129,901 1129,893 1128,893 1128,901 1127,901 1127,904 1126,904 1126,916 1125,916 1125,920 1124,920 1124,920 1123,920 1123,920 1122,920 1122,899 1121,899 1121,903 1120,903 1120,903 1119,903 1119,906 1118,906 1118,917 1117,917 1117,917 1116,917 1116,927 1115,927 1115,927 1114,927 1114,927 1113,927 1113,923 1112,923 1112,923 1111,923 1111,923 1110,923 1110,930 1109,930 1109,930 1108,930 1108,930 1107,930 1107,923 1106,923 1106,929 1105,929 1105,929 1104,929 1104,936 1103,936 1103,939 1102,939 1102,939 1101,939 1101,939 1100,939 1100,930 1099,930 1099,930 1098,930 1098,930 1097,930 1097,930 1096,930 1096,939 1095,939 1095,939 1094,939 1094,939 1093,939 1093,942 1092,942 1092,942 1091,942 1091,942 1090,942 1090,942 1089,942 1089,942 1088,942 1088,941 1087,941 1087,948 1086,948 1086,948 1085,948 1085,949 1084,949 1084,949 1083,949 1083,949 1082,949 1082,934 1081,934 1081,933 1080,933 1080,929 1079,929 1079,929 1078,929 1078,920 1077,920 1077,911 1076,911 1076,910 1075,910 1075,910 1074,910 1074,920 1073,920 1073,920 1072,920 1072,920 1071,920 1071,901 1070,901 1070,904 1069,904 1069,904 1068,904 1068,904 1067,904 1067,899 1066,899 1066,894 1065,894 1065,887 1064,887 1064,896 1063,896 1063,896 1062,896 1062,896 1061,896 1061,892 1060,892 1060,892 1059,892 1059,893 1058,893 1058,901 1057,901 1057,901 1056,901 1056,901 1055,901 1055,895 1054,895 1054,895 1053,895 1053,884 1052,884 1052,884 1051,884 1051,887 1050,887 1050,900 1049,900 1049,904 1048,904 1048,904 1047,904 1047,904 1046,904 1046,910 1045,910 1045,910 1044,910 1044,910 1043,910 1043,896 1042,896 1042,896 1041,896 1041,896 1040,896 1040,897 1039,897 1039,899 1038,899 1038,904 1037,904 1037,906 1036,906 1036,906 1035,906 1035,916 1034,916 1034,921 1033,921 1033,921 1032,921 1032,921 1031,921 1031,910 1030,910 1030,910 1029,910 1029,919 1028,919 1028,919 1027,919 1027,919 1026,919 1026,906 1025,906 1025,906 1024,906 1024,904 1023,904 1023,905 1022,905 1022,905 1021,905 1021,905 1020,905 1020,925 1019,925 1019,925 1018,925 1018,925 1017,925 1017,917 1016,917 1016,917 1015,917 1015,906 1014,906 1014,923 1013,923 1013,923 1012,923 1012,923 1011,923 1011,942 1010,942 1010,942 1009,942 1009,942 1008,942 1008,932 1007,932 1007,932 1006,932 1006,932 1005,932 1005,936 1004,936 1004,936 1003,936 1003,936 1002,936 1002,929 1001,929 1001,929 1000,929 1000,929 999,929 999,911 998,911 998,910 997,910 997,909 996,909 996,915 995,915 995,915 994,915 994,915 993,915 993,905 992,905 992,912 991,912 991,920 990,920 990,920 989,920 989,920 988,920 988,923 987,923 987,923 986,923 986,923 985,923 985,914 984,914 984,910 983,910 983,909 982,909 982,900 981,900 981,899 980,899 980,898 979,898 979,898 978,898 978,892 977,892 977,890 976,890 976,881 975,881 975,889 974,889 974,889 973,889 973,889 972,889 972,871 971,871 971,872 970,872 970,872 969,872 969,872 968,872 968,868 967,868 967,875 966,875 966,875 965,875 965,875 964,875 964,867 963,867 963,867 962,867 962,871 961,871 961,871 960,871 960,873 959,873 959,873 958,873 958,878 957,878 957,879 956,879 956,879 955,879 955,885 954,885 954,889 953,889 953,889 952,889 952,889 951,889 951,897 950,897 950,897 949,897 949,907 948,907 948,907 947,907 947,909 946,909 946,918 945,918 945,918 944,918 944,918 943,918 943,907 942,907 942,912 941,912 941,917 940,917 940,917 939,917 939,917 938,917 938,914 937,914 937,914 936,914 936,914 935,914 935,928 934,928 934,928 933,928 933,928 932,928 932,917 931,917 931,917 930,917 930,920 929,920 929,922 928,922 928,927 927,927 927,946 926,946 926,946 925,946 925,946 924,946 924,929 923,929 923,939 922,939 922,939 921,939 921,939 920,939 920,937 919,937 919,929 918,929 918,936 917,936 917,936 916,936 916,936 915,936 915,920 914,920 914,919 913,919 913,927 912,927 912,927 911,927 911,927 910,927 910,910 909,910 909,910 908,910 908,916 907,916 907,916 906,916 906,916 905,916 905,911 904,911 904,911 903,911 903,911 902,911 902,911 901,911 901,919 900,919 900,919 899,919 899,919 898,919 898,916 897,916 897,917 896,917 896,917 895,917 895,917 894,917 894,913 893,913 893,902 892,902 892,902 891,902 891,902 890,902 890,902 889,902 889,903 888,903 888,911 887,911 887,913 886,913 886,913 885,913 885,913 884,913 884,913 883,913 883,913 882,913 882,907 881,907 881,907 880,907 880,916 879,916 879,916 878,916 878,916 877,916 877,908 876,908 876,908 875,908 875,904 874,904 874,902 873,902 873,902 872,902 872,890 871,890 871,882 870,882 870,882 869,882 869,881 868,881 868,876 867,876 867,883 866,883 866,883 865,883 865,883 864,883 864,887 863,887 863,887 862,887 862,887 861,887 861,892 860,892 860,892 859,892 859,892 858,892 858,890 857,890 857,890 856,890 856,893 855,893 855,900 854,900 854,900 853,900 853,905 852,905 852,905 851,905 851,910 850,910 850,913 849,913 849,920 848,920 848,920 847,920 847,937 846,937 846,937 845,937 845,937 844,937 844,922 843,922 843,922 842,922 842,922 841,922 841,922 840,922 840,927 839,927 839,935 838,935 838,935 837,935 837,935 836,935 836,923 835,923 835,937 834,937 834,937 833,937 833,937 832,937 832,929 831,929 831,929 830,929 830,928 829,928 829,941 828,941 828,941 827,941 827,941 826,941 826,926 825,926 825,926 824,926 824,925 823,925 823,925 822,925 822,924 821,924 821,924 820,924 820,924 819,924 819,922 818,922 818,922 817,922 817,920 816,920 816,916 815,916 815,912 814,912 814,919 813,919 813,929 812,929 812,929 811,929 811,929 810,929 810,927 809,927 809,925 808,925 808,923 807,923 807,923 806,923 806,923 805,923 805,927 804,927 804,930 803,930 803,930 802,930 802,934 801,934 801,934 800,934 800,934 799,934 799,915 798,915 798,916 797,916 797,916 796,916 796,916 795,916 795,910 794,910 794,910 793,910 793,900 792,900 792,890 791,890 791,886 790,886 790,886 789,886 789,881 788,881 788,879 787,879 787,879 786,879 786,879 785,879 785,876 784,876 784,876 783,876 783,876 782,876 782,871 781,871 781,871 780,871 780,873 779,873 779,873 778,873 778,873 777,873 777,892 776,892 776,892 775,892 775,892 774,892 774,882 773,882 773,890 772,890 772,906 771,906 771,906 770,906 770,906 769,906 769,897 768,897 768,897 767,897 767,897 766,897 766,897 765,897 765,901 764,901 764,901 763,901 763,903 762,903 762,903 761,903 761,903 760,903 760,902 759,902 759,913 758,913 758,913 757,913 757,913 756,913 756,908 755,908 755,908 754,908 754,908 753,908 753,904 752,904 752,904 751,904 751,904 750,904 750,906 749,906 749,913 748,913 748,928 747,928 747,928 746,928 746,928 745,928 745,923 744,923 744,936 743,936 743,936 742,936 742,936 741,936 741,932 740,932 740,942 739,942 739,942 738,942 738,942 737,942 737,925 736,925 736,943 735,943 735,943 734,943 734,943 733,943 733,941 732,941 732,930 731,930 731,930 730,930 730,932 729,932 729,932 728,932 728,932 727,932 727,922 726,922 726,922 725,922 725,916 724,916 724,916 723,916 723,908 722,908 722,906 721,906 721,917 720,917 720,917 719,917 719,917 718,917 718,915 717,915 717,914 716,914 716,914 715,914 715,904 714,904 714,897 713,897 713,907 712,907 712,907 711,907 711,907 710,907 710,891 709,891 709,891 708,891 708,880 707,880 707,888 706,888 706,888 705,888 705,888 704,888 704,887 703,887 703,887 702,887 702,887 701,887 701,887 700,887 700,896 699,896 699,901 698,901 698,901 697,901 697,901 696,901 696,890 695,890 695,890 694,890 694,883 693,883 693,883 692,883 692,879 691,879 691,879 690,879 690,873 689,873 689,874 688,874 688,876 687,876 687,878 686,878 686,878 685,878 685,878 684,878 684,887 683,887 683,887 682,887 682,887 681,887 681,888 680,888 680,888 679,888 679,888 678,888 678,886 677,886 677,883 676,883 676,884 675,884 675,901 674,901 674,901 673,901 673,901 672,901 672,897 671,897 671,897 670,897 670,895 669,895 669,896 668,896 668,897 667,897 667,899 666,899 666,905 665,905 665,906 664,906 664,907 663,907 663,908 662,908 662,908 661,908 661,920 660,920 660,920 659,920 659,920 658,920 658,906 657,906 657,907 656,907 656,908 655,908 655,908 654,908 654,908 653,908 653,906 652,906 652,912 651,912 651,912 650,912 650,912 649,912 649,915 648,915 648,928 647,928 647,928 646,928 646,928 645,928 645,920 644,920 644,918 643,918 643,918 642,918 642,924 641,924 641,924 640,924 640,924 639,924 639,924 638,924 638,924 637,924 637,924 636,924 636,920 635,920 635,920 634,920 634,920 633,920 633,918 632,918 632,911 631,911 631,911 630,911 630,912 629,912 629,916 628,916 628,916 627,916 627,916 626,916 626,913 625,913 625,909 624,909 624,909 623,909 623,901 622,901 622,900 621,900 621,900 620,900 620,900 619,900 619,900 618,900 618,900 617,900 617,900 616,900 616,890 615,890 615,886 614,886 614,886 613,886 613,883 612,883 612,887 611,887 611,887 610,887 610,887 609,887 609,883 608,883 608,882 607,882 607,874 606,874 606,874 605,874 605,874 604,874 604,883 603,883 603,883 602,883 602,883 601,883 601,868 600,868 600,871 599,871 599,871 598,871 598,876 597,876 597,894 596,894 596,894 595,894 595,894 594,894 594,899 593,899 593,899 592,899 592,899 591,899 591,894 590,894 590,894 589,894 589,894 588,894 588,902 587,902 587,902 586,902 586,902 585,902 585,902 584,902 584,912 583,912 583,912 582,912 582,912 581,912 581,916 580,916 580,916 579,916 579,916 578,916 578,914 577,914 577,914 576,914 576,914 575,914 575,910 574,910 574,898 573,898 573,909 572,909 572,909 571,909 571,922 570,922 570,922 569,922 569,922 568,922 568,911 567,911 567,922 566,922 566,922 565,922 565,922 564,922 564,921 563,921 563,926 562,926 562,926 561,926 561,926 560,926 560,921 559,921 559,940 558,940 558,940 557,940 557,940 556,940 556,934 555,934 555,920 554,920 554,920 553,920 553,920 552,920 552,933 551,933 551,933 550,933 550,933 549,933 549,920 548,920 548,924 547,924 547,924 546,924 546,924 545,924 545,924 544,924 544,924 543,924 543,924 542,924 542,916 541,916 541,917 540,917 540,917 539,917 539,917 538,917 538,918 537,918 537,922 536,922 536,922 535,922 535,922 534,922 534,916 533,916 533,915 532,915 532,912 531,912 531,912 530,912 530,909 529,909 529,907 528,907 528,907 527,907 527,903 526,903 526,904 525,904 525,908 524,908 524,908 523,908 523,908 522,908 522,903 521,903 521,906 520,906 520,906 519,906 519,906 518,906 518,901 517,901 517,901 516,901 516,903 515,903 515,903 514,903 514,903 513,903 513,899 512,899 512,888 511,888 511,886 510,886 510,882 509,882 509,875 508,875 508,877 507,877 507,880 506,880 506,880 505,880 505,901 504,901 504,901 503,901 503,901 502,901 502,892 501,892 501,893 500,893 500,893 499,893 499,893 498,893 498,896 497,896 497,896 496,896 496,896 495,896 495,886 494,886 494,885 493,885 493,892 492,892 492,892 491,892 491,896 490,896 490,918 489,918 489,918 488,918 488,918 487,918 487,912 486,912 486,912 485,912 485,918 484,918 484,918 483,918 483,918 482,918 482,924 481,924 481,924 480,924 480,924 479,924 479,924 478,924 478,924 477,924 477,927 476,927 476,927 475,927 475,945 474,945 474,945 473,945 473,945 472,945 472,930 471,930 471,930 470,930 470,930 469,930 469,931 468,931 468,939 467,939 467,939 466,939 466,942 465,942 465,942 464,942 464,942 463,942 463,933 462,933 462,930 461,930 461,937 460,937 460,937 459,937 459,937 458,937 458,937 457,937 457,922 456,922 456,936 455,936 455,936 454,936 454,936 453,936 453,919 452,919 452,931 451,931 451,933 450,933 450,933 449,933 449,933 448,933 448,926 447,926 447,926 446,926 446,921 445,921 445,921 444,921 444,915 443,915 443,908 442,908 442,908 441,908 441,913 440,913 440,922 439,922 439,922 438,922 438,922 437,922 437,912 436,912 436,912 435,912 435,909 434,909 434,909 433,909 433,909 432,909 432,887 431,887 431,886 430,886 430,886 429,886 429,876 428,876 428,877 427,877 427,877 426,877 426,882 425,882 425,882 424,882 424,895 423,895 423,895 422,895 422,895 421,895 421,875 420,875 420,875 419,875 419,884 418,884 418,884 417,884 417,884 416,884 416,884 415,884 415,893 414,893 414,893 413,893 413,893 412,893 412,882 411,882 411,882 410,882 410,885 409,885 409,893 408,893 408,893 407,893 407,893 406,893 406,888 405,888 405,888 404,888 404,888 403,888 403,901 402,901 402,901 401,901 401,901 400,901 400,890 399,890 399,898 398,898 398,898 397,898 397,905 396,905 396,905 395,905 395,905 394,905 394,909 393,909 393,909 392,909 392,909 391,909 391,905 390,905 390,902 389,902 389,906 388,906 388,911 387,911 387,911 386,911 386,911 385,911 385,916 384,916 384,926 383,926 383,926 382,926 382,926 381,926 381,930 380,930 380,930 379,930 379,930 378,930 378,933 377,933 377,933 376,933 376,933 375,933 375,939 374,939 374,949 373,949 373,949 372,949 372,949 371,949 371,941 370,941 370,930 369,930 369,928 368,928 368,928 367,928 367,928 366,928 366,929 365,929 365,929 364,929 364,929 363,929 363,922 362,922 362,921 361,921 361,925 360,925 360,925 359,925 359,925 358,925 358,916 357,916 357,910 356,910 356,907 355,907 355,910 354,910 354,910 353,910 353,910 352,910 352,907 351,907 351,907 350,907 350,907 349,907 349,901 348,901 348,897 347,897 347,892 346,892 346,892 345,892 345,891 344,891 344,894 343,894 343,902 342,902 342,902 341,902 341,902 340,902 340,897 339,897 339,897 338,897 338,897 337,897 337,878 336,878 336,873 335,873 335,879 334,879 334,879 333,879 333,884 332,884 332,884 331,884 331,884 330,884 330,891 329,891 329,891 328,891 328,891 327,891 327,887 326,887 326,887 325,887 325,893 324,893 324,893 323,893 323,893 322,893 322,890 321,890 321,890 320,890 320,894 319,894 319,900 318,900 318,900 317,900 317,900 316,900 316,899 315,899 315,906 314,906 314,906 313,906 313,906 312,906 312,899 311,899 311,896 310,896 310,910 309,910 309,910 308,910 308,910 307,910 307,896 306,896 306,898 305,898 305,899 304,899 304,903 303,903 303,903 302,903 302,905 301,905 301,909 300,909 300,909 299,909 299,909 298,909 298,910 297,910 297,913 296,913 296,925 295,925 295,925 294,925 294,925 293,925 293,919 292,919 292,931 291,931 291,934 290,934 290,934 289,934 289,934 288,934 288,934 287,934 287,937 286,937 286,937 285,937 285,937 284,937 284,925 283,925 283,925 282,925 282,921 281,921 281,919 280,919 280,914 279,914 279,917 278,917 278,917 277,917 277,917 276,917 276,917 275,917 275,920 274,920 274,920 273,920 273,920 272,920 272,915 271,915 271,919 270,919 270,919 269,919 269,919 268,919 268,919 267,919 267,919 266,919 266,919 265,919 265,918 264,918 264,916 263,916 263,916 262,916 262,924 261,924 261,924 260,924 260,924 259,924 259,914 258,914 258,908 257,908 257,904 256,904 256,901 255,901 255,918 254,918 254,918 253,918 253,918 252,918 252,905 251,905 251,905 250,905 250,896 249,896 249,892 248,892 248,892 247,892 247,892 246,892 246,889 245,889 245,895 244,895 244,895 243,895 243,895 242,895 242,888 241,888 241,886 240,886 240,883 239,883 239,882 238,882 238,880 237,880 237,896 236,896 236,896 235,896 235,896 234,896 234,885 233,885 233,884 232,884 232,889 231,889 231,890 230,890 230,891 229,891 229,891 228,891 228,891 227,891 227,906 226,906 226,906 225,906 225,906 224,906 224,902 223,902 223,902 222,902 222,902 221,902 221,897 220,897 220,915 219,915 219,915 218,915 218,915 217,915 217,904 216,904 216,904 215,904 215,904 214,904 214,897 213,897 213,896 212,896 212,895 211,895 211,894 210,894 210,894 209,894 209,894 208,894" fill="#0072BD" shape-rendering="crispEdges"/>
<path d="M372 838h4V907h-4zM377 834h3V905h-3zM382 779h3V892h-3zM387 828h4V878h-4zM393 786h4V868h-4zM398 725h3V861h-3zM401 764h1V861h-1zM403 694h4V859h-4zM409 666h4V858h-4zM414 639h3V855h-3zM417 816h1V855h-1zM419 601h3V848h-3zM422 821h1V848h-1zM424 609h3V848h-3zM427 821h1V848h-1zM430 622h3V857h-3zM435 620h3V872h-3zM438 791h1V872h-1zM440 608h3V879h-3zM443 819h1V879h-1zM445 651h4V884h-4zM451 674h3V887h-3zM454 788h1V887h-1zM456 645h3V890h-3zM459 794h1V890h-1zM461 610h3V896h-3zM467 566h3V897h-3zM466 771h1V897h-1zM472 510h3V895h-3zM475 764h1V895h-1zM477 462h3V888h-3zM480 828h1V888h-1zM482 428h3V880h-3zM485 829h1V880h-1zM488 428h3V870h-3zM487 768h1V870h-1zM493 418h3V864h-3zM498 400h3V862h-3zM501 797h1V862h-1zM503 407h3V857h-3zM509 378h3V854h-3zM508 813h1V854h-1zM514 309h3V864h-3zM519 317h3V872h-3zM522 827h1V872h-1zM524 322h4V873h-4zM530 324h3V877h-3zM533 785h1V877h-1zM535 333h3V884h-3zM538 764h1V884h-1zM540 290h4V884h-4zM546 342h3V885h-3zM551 388h3V890h-3zM554 802h1V890h-1zM556 333h4V891h-4zM561 318h3V888h-3zM567 309h3V882h-3zM566 824h1V882h-1zM572 320h3V875h-3zM577 292h3V871h-3zM582 314h4V869h-4zM588 314h3V867h-3zM591 770h1V867h-1zM593 299h3V862h-3zM598 312h3V852h-3zM604 338h3V852h-3zM603 791h1V852h-1zM609 386h3V855h-3zM614 330h3V863h-3zM617 827h1V863h-1zM619 317h4V874h-4zM625 356h4V880h-4zM630 338h3V882h-3zM633 772h1V882h-1zM635 364h3V881h-3zM638 810h1V881h-1zM640 440h3V881h-3zM643 808h1V881h-1zM646 426h4V881h-4zM651 401h4V882h-4zM656 416h3V881h-3zM659 771h1V881h-1zM661 392h3V876h-3zM667 406h3V867h-3zM666 794h1V867h-1zM672 387h3V861h-3zM675 771h1V861h-1zM677 362h4V856h-4zM682 331h4V851h-4zM688 337h4V849h-4zM693 322h3V856h-3zM696 787h1V856h-1zM698 267h3V860h-3zM703 284h4V862h-4zM709 278h3V865h-3zM714 242h3V868h-3zM717 793h1V868h-1zM719 237h4V875h-4zM724 252h3V882h-3zM727 787h1V882h-1zM730 291h3V888h-3zM729 815h1V888h-1zM735 304h4V893h-4zM740 276h3V892h-3zM745 242h3V883h-3zM748 790h1V883h-1zM751 261h4V876h-4zM756 250h4V876h-4zM761 258h3V875h-3zM764 760h1V875h-1zM766 262h3V870h-3zM772 264h3V862h-3zM777 296h3V849h-3zM780 761h1V849h-1zM782 290h3V846h-3zM785 801h1V846h-1zM788 335h3V855h-3zM787 764h1V855h-1zM793 292h3V870h-3zM796 786h1V870h-1zM798 296h3V884h-3zM803 283h3V890h-3zM806 785h1V890h-1zM809 293h3V890h-3zM808 800h1V890h-1zM814 287h3V888h-3zM817 786h1V888h-1zM819 360h3V891h-3zM822 787h1V891h-1zM825 382h3V894h-3zM830 354h4V890h-4zM835 353h4V891h-4zM840 306h3V893h-3zM846 335h3V882h-3zM845 790h1V882h-1zM851 329h3V868h-3zM856 329h3V862h-3zM862 349h3V857h-3zM861 824h1V857h-1zM867 324h3V853h-3zM870 761h1V853h-1zM872 332h3V864h-3zM877 333h3V875h-3zM880 790h1V875h-1zM883 318h3V878h-3zM882 813h1V878h-1zM888 327h4V875h-4zM893 297h3V873h-3zM896 763h1V873h-1zM899 303h4V879h-4zM904 286h3V882h-3zM907 807h1V882h-1zM909 316h3V881h-3zM914 375h3V888h-3zM917 779h1V888h-1zM920 330h3V896h-3zM919 777h1V896h-1zM925 312h4V895h-4zM930 295h3V885h-3zM936 295h4V881h-4zM941 272h3V878h-3zM944 781h1V878h-1zM946 295h4V868h-4zM951 308h3V861h-3zM954 786h1V861h-1zM957 289h3V851h-3zM956 787h1V851h-1zM962 309h4V846h-4zM967 326h3V851h-3zM970 823h1V851h-1zM973 298h3V858h-3zM978 331h4V870h-4zM983 340h3V880h-3zM986 780h1V880h-1zM988 303h4V880h-4zM994 336h3V880h-3zM999 368h3V887h-3zM1002 772h1V887h-1zM1004 371h4V893h-4zM1010 404h4V884h-4zM1015 386h3V873h-3zM1020 369h3V873h-3zM1023 789h1V873h-1zM1025 347h3V876h-3zM1031 352h3V877h-3zM1036 362h3V875h-3zM1039 786h1V875h-1zM1041 357h4V866h-4zM1047 369h3V861h-3zM1052 358h3V863h-3zM1057 374h3V869h-3zM1060 787h1V869h-1zM1062 343h4V868h-4zM1068 342h4V869h-4zM1073 336h3V879h-3zM1076 816h1V879h-1zM1078 352h3V893h-3zM1081 791h1V893h-1zM1084 328h3V897h-3zM1089 364h3V895h-3zM1094 381h4V895h-4zM1099 395h3V893h-3zM1105 328h3V889h-3zM1110 330h4V884h-4zM1115 327h3V881h-3zM1118 796h1V881h-1zM1121 318h4V875h-4zM1126 310h3V874h-3zM1129 802h1V874h-1zM1131 339h3V875h-3zM1134 782h1V875h-1zM1136 330h3V867h-3zM1142 350h3V858h-3zM1141 792h1V858h-1zM1147 351h3V860h-3zM1150 778h1V860h-1zM1152 334h3V860h-3zM1155 826h1V860h-1zM1158 331h3V867h-3zM1157 820h1V867h-1zM1163 335h4V878h-4zM1168 342h3V884h-3zM1173 333h3V889h-3zM1176 814h1V889h-1zM1179 368h3V897h-3zM1184 378h3V897h-3zM1189 376h3V883h-3zM1192 775h1V883h-1zM1194 375h3V873h-3zM1197 807h1V873h-1zM1200 353h3V871h-3zM1199 823h1V871h-1zM1205 370h3V876h-3zM1210 373h3V879h-3zM1216 396h3V873h-3zM1215 771h1V873h-1zM1221 375h3V864h-3zM1224 775h1V864h-1zM1226 374h3V857h-3zM1229 768h1V857h-1zM1231 368h3V851h-3zM1237 366h3V851h-3zM1242 381h3V859h-3zM1247 411h3V869h-3zM1250 816h1V869h-1zM1253 425h3V870h-3zM1252 797h1V870h-1zM1258 486h4V872h-4zM1263 570h3V880h-3zM1266 775h1V880h-1zM1268 620h3V890h-3zM1271 782h1V890h-1zM1274 739h4V901h-4zM1279 756h4V901h-4zM1284 716h3V888h-3zM1287 818h1V888h-1zM1289 745h3V884h-3zM1292 760h1V884h-1zM1295 751h3V883h-3zM1300 744h3V875h-3zM1305 834h3V863h-3zM1311 841h3V857h-3zM1316 805h3V861h-3zM1321 773h3V864h-3zM1326 792h3V865h-3zM1329 815h1V865h-1zM1332 805h3V868h-3zM1337 822h4V872h-4zM1342 840h3V875h-3z" fill="#0072BD" shape-rendering="crispEdges"/>
<path d="M594 299h2V849h-2zM778 297h2V849h-2zM963 309h2V849h-2zM1147 351h2V849h-2z" fill="#FF0000" shape-rendering="crispEdges"/>
<path d="M207 240h22v2h-22zM247 240h22v2h-22zM287 240h22v2h-22zM328 240h22v2h-22zM368 240h22v2h-22zM409 240h22v2h-22zM449 240h22v2h-22zM490 240h22v2h-22zM530 240h22v2h-22zM571 240h22v2h-22zM611 240h22v2h-22zM652 240h22v2h-22zM692 240h22v2h-22zM732 240h22v2h-22zM773 240h22v2h-22zM813 240h22v2h-22zM854 240h22v2h-22zM894 240h22v2h-22zM935 240h22v2h-22zM975 240h22v2h-22zM1016 240h22v2h-22zM1056 240h22v2h-22zM1096 240h22v2h-22zM1137 240h22v2h-22zM1177 240h22v2h-22zM1218 240h22v2h-22zM1258 240h22v2h-22zM1299 240h22v2h-22zM1339 240h22v2h-22zM1380 240h22v2h-22zM1420 240h22v2h-22zM1460 240h22v2h-22zM1501 240h22v2h-22zM207 442h22v2h-22zM247 442h22v2h-22zM287 442h22v2h-22zM328 442h22v2h-22zM368 442h22v2h-22zM409 442h22v2h-22zM449 442h22v2h-22zM490 442h22v2h-22zM530 442h22v2h-22zM571 442h22v2h-22zM611 442h22v2h-22zM652 442h22v2h-22zM692 442h22v2h-22zM732 442h22v2h-22zM773 442h22v2h-22zM813 442h22v2h-22zM854 442h22v2h-22zM894 442h22v2h-22zM935 442h22v2h-22zM975 442h22v2h-22zM1016 442h22v2h-22zM1056 442h22v2h-22zM1096 442h22v2h-22zM1137 442h22v2h-22zM1177 442h22v2h-22zM1218 442h22v2h-22zM1258 442h22v2h-22zM1299 442h22v2h-22zM1339 442h22v2h-22zM1380 442h22v2h-22zM1420 442h22v2h-22zM1460 442h22v2h-22zM1501 442h22v2h-22z" fill="#000" shape-rendering="crispEdges"/>
<line x1="605.6" y1="214.0" x2="599.7" y2="263.9" stroke="#000" stroke-width="2.8"/><polygon points="596.6,289.8 588.1,255.8 599.7,263.9 612.9,258.7" fill="#000" stroke="#000" stroke-width="2.4" stroke-linejoin="round"/><line x1="801.4" y1="162.9" x2="789.9" y2="240.3" stroke="#000" stroke-width="2.8"/><polygon points="786.1,266.1 778.5,231.8 789.9,240.3 803.3,235.5" fill="#000" stroke="#000" stroke-width="2.4" stroke-linejoin="round"/><line x1="983.1" y1="200.4" x2="972.0" y2="267.7" stroke="#000" stroke-width="2.8"/><polygon points="967.8,293.4 960.8,259.0 972.0,267.7 985.5,263.1" fill="#000" stroke="#000" stroke-width="2.4" stroke-linejoin="round"/><line x1="1161.1" y1="223.6" x2="1151.5" y2="296.7" stroke="#000" stroke-width="2.8"/><polygon points="1148.1,322.6 1139.9,288.5 1151.5,296.7 1164.7,291.7" fill="#000" stroke="#000" stroke-width="2.4" stroke-linejoin="round"/>
<g style="font-family:'Liberation Serif','Times New Roman',serif;font-weight:bold" fill="#000">
<text x="186.0" y="63.3" font-size="69.0" text-anchor="end">-15</text>
<text x="186.0" y="265.3" font-size="69.0" text-anchor="end">-25</text>
<text x="186.0" y="468.3" font-size="69.0" text-anchor="end">-35</text>
<text x="186.0" y="670.3" font-size="69.0" text-anchor="end">-45</text>
<text x="186.0" y="872.5" font-size="69.0" text-anchor="end">-55</text>
<text x="186.0" y="1074.3" font-size="69.0" text-anchor="end">-65</text>
<text transform="translate(205.8 1134.0) scale(0.975 1)" font-size="69.0" text-anchor="middle">1545.3</text>
<text transform="translate(536.0 1134.0) scale(0.975 1)" font-size="69.0" text-anchor="middle">1546.3</text>
<text transform="translate(866.3 1134.0) scale(0.975 1)" font-size="69.0" text-anchor="middle">1547.3</text>
<text transform="translate(1196.5 1134.0) scale(0.975 1)" font-size="69.0" text-anchor="middle">1548.3</text>
<text transform="translate(1526.8 1134.0) scale(0.975 1)" font-size="69.0" text-anchor="middle">1549.3</text>
<text transform="translate(866.0 1222.7) scale(0.978 1)" font-size="76" text-anchor="middle">Wavelength (nm)</text>
<text transform="translate(70.8 546.3) rotate(-90) scale(0.993 1)" font-size="74.6" text-anchor="middle">Power (dBm)</text>
<text transform="translate(1403.70 420.0) scale(0.983 1)" font-size="54.6">10dB</text>
<text transform="translate(534.25 182.80) scale(1.150 1)" font-size="52.12" font-style="italic">λ</text>
<text transform="translate(559.14 207.81) scale(0.977 1)" font-size="44.16">D</text>
<text transform="translate(589.61 184.70) scale(0.975 1)" font-size="61.20">-</text>
<text transform="translate(614.95 183.40) scale(1.206 1)" font-size="57.87">Δ</text>
<text transform="translate(663.41 182.80) scale(1.129 1)" font-size="52.12" font-style="italic">λ</text>
<text transform="translate(687.24 207.81) scale(0.977 1)" font-size="44.16">D</text>
<text transform="translate(771.21 122.20) scale(1.132 1)" font-size="51.98" font-style="italic">λ</text>
<text transform="translate(796.25 147.62) scale(0.987 1)" font-size="42.94">D</text>
<text transform="translate(893.50 176.00) scale(1.117 1)" font-size="52.27" font-style="italic">λ</text>
<text x="917.14" y="200.32" font-size="43.24">D</text>
<text x="947.95" y="177.96" font-size="60.11">+</text>
<text transform="translate(986.04 176.00) scale(1.208 1)" font-size="58.32">Δ</text>
<text transform="translate(1034.40 176.00) scale(1.117 1)" font-size="52.27" font-style="italic">λ</text>
<text transform="translate(1059.45 200.32) scale(0.980 1)" font-size="43.24">D</text>
<text transform="translate(1137.95 196.20) scale(1.141 1)" font-size="52.55" font-style="italic">λ</text>
<text transform="translate(1162.74 220.02) scale(1.012 1)" font-size="42.48">D</text>
<text transform="translate(1193.05 198.20) scale(0.988 1)" font-size="60.54">+</text>
<text x="1224.51" y="196.20" font-size="54.07">2</text>
<text transform="translate(1256.94 196.20) scale(1.215 1)" font-size="57.87">Δ</text>
<text transform="translate(1305.29 196.20) scale(1.107 1)" font-size="52.55" font-style="italic">λ</text>
<text transform="translate(1329.34 220.02) scale(1.012 1)" font-size="42.48">D</text>
</g>
</svg>
</body></html>
